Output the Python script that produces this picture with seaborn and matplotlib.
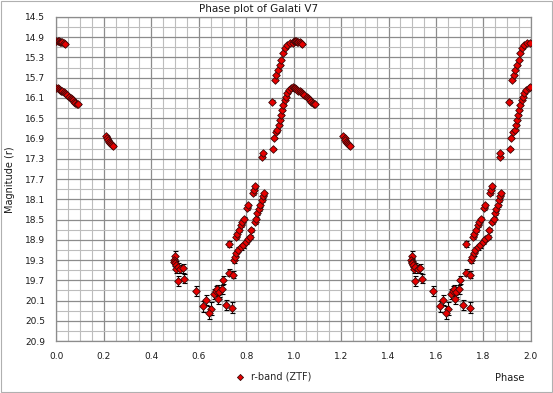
import numpy as np
import pandas as pd
import matplotlib
matplotlib.use("Agg")
import matplotlib.pyplot as plt
from matplotlib.ticker import MultipleLocator, FixedLocator
import seaborn as sns

# light curve values, phase in [0, 1)
bright_phase = [0.000, 0.005, 0.010, 0.015, 0.020, 0.025, 0.030, 0.035,
                0.755, 0.761, 0.769, 0.776, 0.783, 0.790, 0.803, 0.808, 0.829, 0.832, 0.836,
                0.868, 0.871, 0.920, 0.927, 0.934, 0.941, 0.948, 0.955, 0.962, 0.972, 0.983, 0.997]
bright_mag = [14.97, 14.98, 14.97, 14.99, 14.99, 15.00, 15.02, 15.04,
              18.85, 18.78, 18.70, 18.61, 18.55, 18.48, 18.28, 18.22, 17.98, 17.91, 17.84,
              17.26, 17.18, 15.75, 15.65, 15.55, 15.45, 15.35, 15.22, 15.12, 15.05, 15.02, 15.01]
bright_err = [0.01, 0.01, 0.01, 0.01, 0.01, 0.01, 0.01, 0.01,
              0.04, 0.04, 0.04, 0.04, 0.03, 0.03, 0.03, 0.03, 0.03, 0.03, 0.03,
              0.02, 0.02, 0.01, 0.01, 0.01, 0.01, 0.01, 0.01, 0.01, 0.01, 0.01, 0.01]

faint_phase = [0.000, 0.005, 0.010, 0.015, 0.020, 0.025, 0.030, 0.035, 0.040, 0.045,
               0.055, 0.060, 0.065, 0.070, 0.075, 0.080, 0.085, 0.090,
               0.210, 0.215, 0.218, 0.222, 0.226, 0.230, 0.234, 0.238,
               0.748, 0.752, 0.759, 0.765, 0.776, 0.787, 0.798, 0.808, 0.818, 0.822,
               0.836, 0.843, 0.847, 0.853, 0.860, 0.867, 0.871, 0.875,
               0.907, 0.911, 0.916, 0.924, 0.931, 0.938, 0.941, 0.945, 0.951, 0.955,
               0.962, 0.967, 0.972, 0.980, 0.990, 0.997]
faint_mag = [15.90, 15.91, 15.93, 15.94, 15.96, 15.97, 15.99, 16.00, 16.02, 16.04,
             16.09, 16.11, 16.13, 16.15, 16.17, 16.19, 16.21, 16.22,
             16.86, 16.90, 16.93, 16.96, 16.98, 17.01, 17.03, 17.05,
             19.29, 19.24, 19.17, 19.10, 19.05, 19.01, 18.94, 18.89, 18.85, 18.70,
             18.55, 18.48, 18.38, 18.30, 18.22, 18.12, 18.04, 17.98,
             16.17, 17.10, 16.90, 16.77, 16.73, 16.63, 16.54, 16.44, 16.34, 16.24,
             16.14, 16.08, 16.01, 15.94, 15.91, 15.88]
faint_err = [0.01, 0.01, 0.01, 0.01, 0.01, 0.01, 0.01, 0.01, 0.01, 0.01,
             0.01, 0.01, 0.01, 0.01, 0.01, 0.01, 0.01, 0.01,
             0.02, 0.02, 0.02, 0.02, 0.02, 0.02, 0.02, 0.02,
             0.06, 0.06, 0.05, 0.05, 0.05, 0.05, 0.04, 0.04, 0.04, 0.04,
             0.04, 0.03, 0.03, 0.03, 0.03, 0.03, 0.03, 0.03,
             0.02, 0.02, 0.02, 0.02, 0.02, 0.02, 0.02, 0.02, 0.02, 0.02,
             0.01, 0.01, 0.01, 0.01, 0.01, 0.01]

min_phase = [0.499, 0.495, 0.497, 0.499, 0.504, 0.506, 0.513, 0.523, 0.532, 0.513,
             0.539, 0.588, 0.629, 0.619, 0.650, 0.644, 0.665, 0.672, 0.678, 0.686,
             0.696, 0.682, 0.703, 0.713, 0.742, 0.728, 0.745, 0.727]
min_mag = [19.22, 19.29, 19.33, 19.36, 19.40, 19.47, 19.43, 19.48, 19.46, 19.72,
           19.67, 19.91, 20.09, 20.21, 20.26, 20.34, 19.97, 19.91, 19.88, 19.93,
           19.88, 20.07, 19.70, 20.18, 20.24, 19.55, 19.59, 18.99]
min_err = [0.09, 0.08, 0.08, 0.08, 0.08, 0.09, 0.08, 0.08, 0.09, 0.10,
           0.09, 0.09, 0.10, 0.11, 0.13, 0.13, 0.09, 0.10, 0.09, 0.09,
           0.09, 0.09, 0.08, 0.10, 0.11, 0.07, 0.07, 0.06]

phase = np.array(bright_phase + faint_phase + min_phase)
mag = np.array(bright_mag + faint_mag + min_mag)
err = np.array(bright_err + faint_err + min_err)

# two cycles, as usual for a phase plot
df = pd.DataFrame({
    "phase": np.concatenate([phase, phase + 1]),
    "mag": np.concatenate([mag, mag]),
    "err": np.concatenate([err, err]),
})
df = df[df["phase"] <= 2.0]

sns.set_style("white")
plt.rcParams["font.family"] = ["DejaVu Sans"]

fig = plt.figure(figsize=(5.53, 3.93), dpi=100)
ax = fig.add_axes([0.102, 0.132, 0.858, 0.825])

ax.errorbar(df["phase"], df["mag"], yerr=df["err"], fmt="none",
            ecolor="black", elinewidth=0.8, capsize=1.8, capthick=0.8, zorder=3)
sns.scatterplot(data=df, x="phase", y="mag", ax=ax, marker="D", s=15,
                color="#e80000", edgecolor="#3a0a0a", linewidth=0.6,
                zorder=4, label="r-band (ZTF)", legend=False)

ax.set_xlim(0, 2.0)
ax.set_ylim(20.9, 14.5)
ax.xaxis.set_major_locator(MultipleLocator(0.2))
ax.xaxis.set_minor_locator(MultipleLocator(0.05))
ax.yaxis.set_major_locator(FixedLocator(np.arange(14.5, 20.95, 0.4)))
ax.yaxis.set_minor_locator(FixedLocator(np.arange(14.5, 20.95, 0.2)))
ax.xaxis.set_major_formatter(plt.FormatStrFormatter("%.1f"))
ax.yaxis.set_major_formatter(plt.FormatStrFormatter("%.1f"))

ax.grid(which="major", color="#8c8c8c", linewidth=0.9)
ax.grid(which="minor", color="#bdbdbd", linewidth=0.8)
ax.set_axisbelow(True)
for sp in ax.spines.values():
    sp.set_color("#8c8c8c")
    sp.set_linewidth(0.9)

ax.tick_params(which="both", length=0, labelsize=6.5, colors="#1a1a1a")
ax.tick_params(axis="y", pad=8)
ax.tick_params(axis="x", pad=8)
ax.set_xlabel("")
ax.set_ylabel("")

fig.text(0.467, 0.978, "Phase plot of Galati V7", ha="center", va="center",
         fontsize=7.5, color="#1a1a1a")
fig.text(0.018, 0.542, "Magnitude (r)", rotation=90, ha="center", va="center",
         fontsize=7, color="#1a1a1a")
fig.text(0.922, 0.038, "Phase", ha="center", va="center", fontsize=7, color="#1a1a1a")

handles, labels = ax.get_legend_handles_labels()
fig.legend(handles, labels, loc="center", bbox_to_anchor=(0.49, 0.041),
           frameon=False, fontsize=7, handletextpad=0.2, markerscale=0.8,
           borderaxespad=0)

fig.patches.append(plt.Rectangle((0.002, 0.003), 0.996, 0.994, transform=fig.transFigure,
                                 fill=False, edgecolor="#b0b0b0", linewidth=0.8))

fig.savefig("out.png", dpi=100)
